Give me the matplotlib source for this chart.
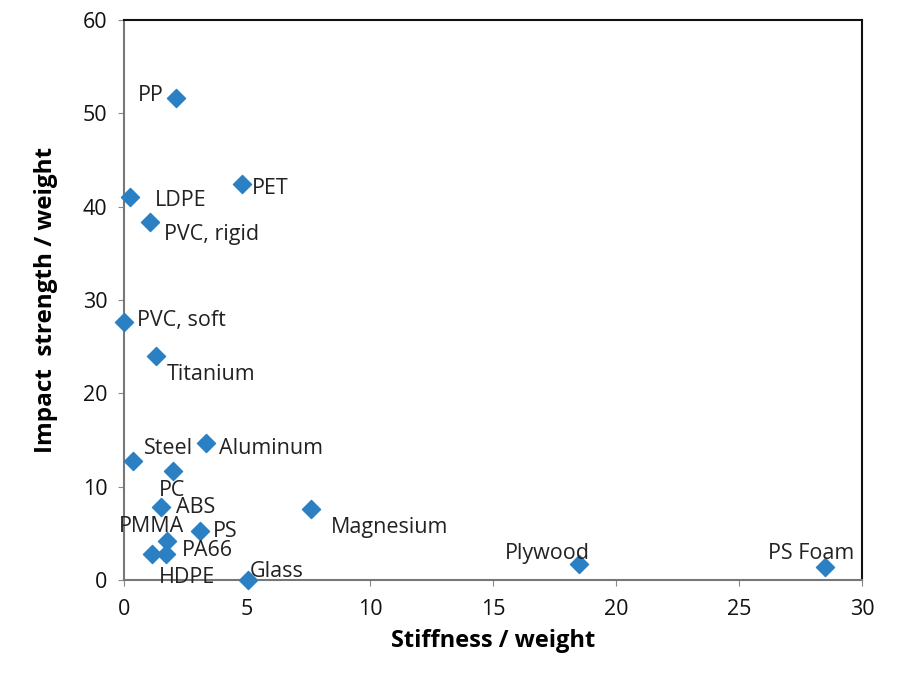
import matplotlib
import matplotlib.pyplot as plt

matplotlib.use("Agg")

# data
materials = ["PP", "PET", "LDPE", "PVC, rigid", "PVC, soft", "Titanium", "Steel",
             "Aluminum", "PC", "ABS", "Magnesium", "PS", "PA66", "PMMA", "HDPE",
             "Glass", "Plywood", "PS Foam"]
stiffness = [2.1, 4.8, 0.25, 1.05, 0.0, 1.3, 0.35, 3.35, 2.0, 1.5, 7.6, 3.1, 1.75, 1.15, 1.7,
             5.05, 18.5, 28.5]
impact = [51.6, 42.4, 41.0, 38.4, 27.6, 24.0, 12.8, 14.7, 11.7, 7.8, 7.6, 5.3, 4.2, 2.8, 2.8,
          0.0, 1.7, 1.4]

# label offsets in points (dx, dy, ha)
offsets = {
    "PP": (-9, 2, "right"),
    "PET": (7, -3, "left"),
    "LDPE": (18, -2, "left"),
    "PVC, rigid": (10, -9, "left"),
    "PVC, soft": (9, 1, "left"),
    "Titanium": (8, -13, "left"),
    "Steel": (8, 9, "left"),
    "Aluminum": (9, -4, "left"),
    "PC": (-10, -14, "left"),
    "ABS": (11, 0, "left"),
    "Magnesium": (14, -13, "left"),
    "PS": (9, -1, "left"),
    "PA66": (11, -7, "left"),
    "PMMA": (23, 20, "right"),
    "HDPE": (-5, -17, "left"),
    "Glass": (1, 6, "left"),
    "Plywood": (8, 8, "right"),
    "PS Foam": (21, 10, "right"),
}

fig = plt.figure(figsize=(9, 6.77), dpi=100)
ax = fig.add_axes([0.1378, 0.1433, 0.8202, 0.8272])

ax.scatter(stiffness, impact, marker="D", s=85, color="#2b80c3", zorder=3, clip_on=False)

for name, x, y in zip(materials, stiffness, impact):
    dx, dy, ha = offsets[name]
    ax.annotate(name, (x, y), xytext=(dx, dy), textcoords="offset points",
                ha=ha, va="center", fontsize=15.5, family="Open Sans", color="#222222")

ax.set_xlim(0, 30)
ax.set_ylim(0, 60)
ax.set_xticks(range(0, 31, 5))
ax.set_yticks(range(0, 61, 10))
ax.tick_params(direction="out", length=4, width=0.8, color="#888888",
               labelsize=15.5, labelcolor="#111111")
ax.tick_params(axis="x", pad=10)
ax.tick_params(axis="y", pad=8)
for lab in ax.get_xticklabels() + ax.get_yticklabels():
    lab.set_family("Open Sans")

for side in ["left", "bottom"]:
    ax.spines[side].set_color("#777777")
    ax.spines[side].set_linewidth(1.5)
for side in ["top", "right"]:
    ax.spines[side].set_color("#111111")
    ax.spines[side].set_linewidth(1.5)

ax.set_xlabel("Stiffness / weight", fontsize=17, fontweight="bold", family="Open Sans",
              labelpad=6)
ax.set_ylabel("Impact  strength / weight", fontsize=17.5, fontweight="bold",
              family="Open Sans", labelpad=18)

fig.savefig("out.png", dpi=100)
plt.close(fig)
